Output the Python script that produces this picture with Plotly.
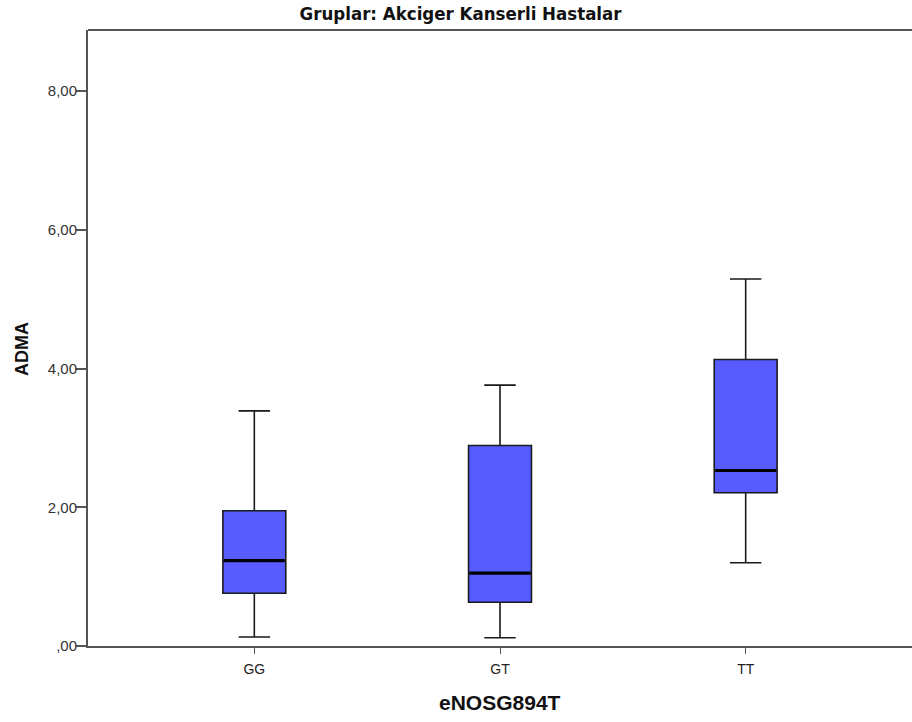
import plotly.graph_objects as go

# ADMA levels by eNOS G894T genotype (lung cancer patients)
genotypes = ["GG", "GT", "TT"]
whisker_low = [0.13, 0.12, 1.20]
q1 = [0.76, 0.63, 2.21]
median = [1.23, 1.05, 2.53]
q3 = [1.95, 2.89, 4.13]
whisker_high = [3.39, 3.76, 5.29]

y_ticks = [0, 2, 4, 6, 8]
y_tick_text = [",00", "2,00", "4,00", "6,00", "8,00"]

BOX_W = 0.256
FILL = "rgb(88,92,255)"
AXIS = "#555555"

positions = list(range(len(genotypes)))

fig = go.Figure()
fig.add_trace(go.Box(
    x=positions,
    q1=q1, median=median, q3=q3,
    lowerfence=whisker_low, upperfence=whisker_high,
    width=BOX_W,
    whiskerwidth=0.5,
    fillcolor=FILL,
    line=dict(color="#1a1a1a", width=1.6),
    boxpoints=False,
    hoverinfo="skip",
    showlegend=False,
))

# heavier median bars drawn over each box
for i, m in zip(positions, median):
    fig.add_trace(go.Scatter(
        x=[i - BOX_W / 2 + 0.004, i + BOX_W / 2 - 0.004], y=[m, m],
        mode="lines", line=dict(color="black", width=3.2),
        hoverinfo="skip", showlegend=False,
    ))

fig.update_layout(
    width=912, height=722,
    margin=dict(l=88, r=0, t=30, b=76),
    paper_bgcolor="white", plot_bgcolor="white",
    font=dict(family="Arial, Liberation Sans, sans-serif", color="#222222"),
    title=dict(
        text="<b>Gruplar: Akciger Kanserli Hastalar</b>",
        x=0.505, xanchor="center", y=0.981, yanchor="middle",
        font=dict(family="DejaVu Sans Condensed, Liberation Sans Narrow, Liberation Sans, sans-serif",
                  size=18.5, color="#111111"),
    ),
    xaxis=dict(
        range=[-0.677, 2.677],
        tickvals=positions, ticktext=genotypes,
        ticks="outside", ticklen=6, tickwidth=1, tickcolor=AXIS,
        tickfont=dict(size=14, color="#222222"),
        ticklabelstandoff=3,
        showline=True, linecolor=AXIS, linewidth=2, mirror=False,
        showgrid=False, zeroline=False,
    ),
    yaxis=dict(
        range=[0, 8.88],
        tickvals=y_ticks, ticktext=y_tick_text,
        ticks="outside", ticklen=10, tickwidth=1.5, tickcolor=AXIS,
        tickfont=dict(size=15, color="#333333"),
        ticklabelstandoff=-4,
        showline=True, linecolor=AXIS, linewidth=2,
        showgrid=False, zeroline=False,
    ),
    annotations=[
        dict(text="<b>eNOSG894T</b>", xref="paper", yref="paper", x=0.5, y=-0.0925,
             xanchor="center", yanchor="middle", showarrow=False,
             font=dict(size=21, color="#111111")),
        dict(text="<b>ADMA</b>", xref="paper", yref="paper", x=-0.0801, y=0.482,
             xanchor="center", yanchor="middle", textangle=-90, showarrow=False,
             font=dict(size=18, color="#111111")),
    ],
    shapes=[dict(type="line", xref="paper", yref="paper", x0=0, x1=1, y0=1, y1=1,
                 line=dict(color=AXIS, width=2))],
)

fig.write_html("out.html")
